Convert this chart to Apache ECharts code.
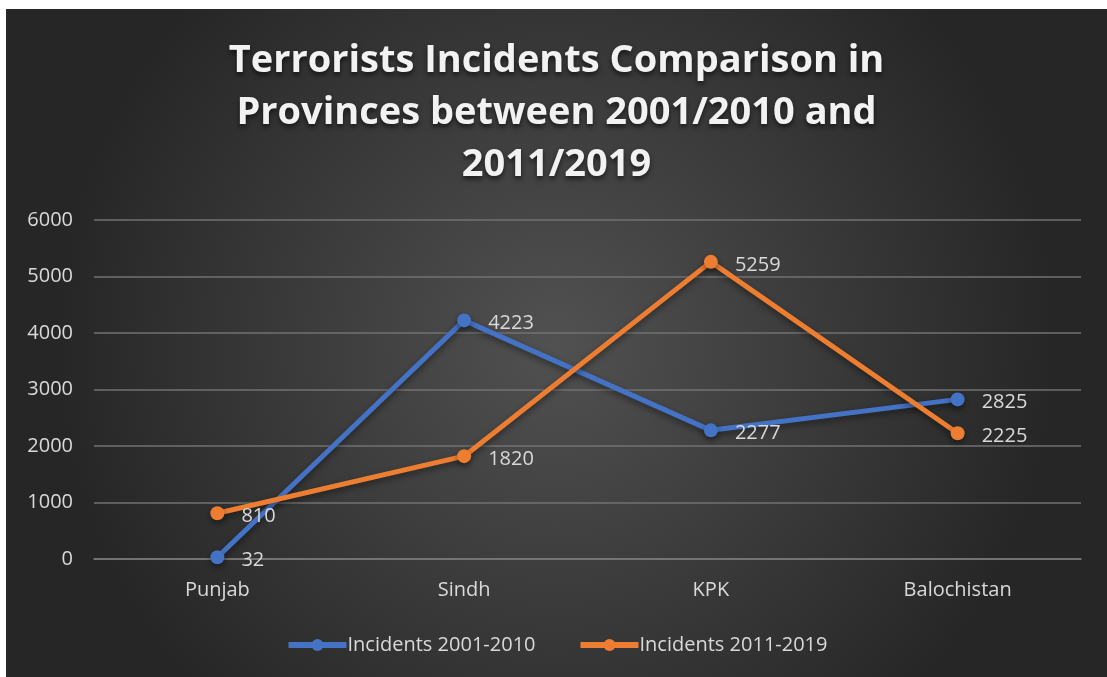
<!DOCTYPE html>
<html>
<head>
<meta charset="utf-8">
<script src="https://cdn.jsdelivr.net/npm/echarts@6/dist/echarts.min.js"></script>
<style>
  html, body { margin: 0; padding: 0; background: #ffffff; }
  #chart { position: absolute; left: 6px; top: 9px; width: 1101px; height: 668px; }
</style>
</head>
<body>
<div id="chart"></div>
<script>
// Provinces on the x axis
const provinces = ['Punjab', 'Sindh', 'KPK', 'Balochistan'];
// Incident counts per period
const incidents2001to2010 = [32, 4223, 2277, 2825];
const incidents2011to2019 = [810, 1820, 5259, 2225];
const seriesNames = ['Incidents 2001-2010', 'Incidents 2011-2019'];
const titleText = 'Terrorists Incidents Comparison in\nProvinces between 2001/2010 and\n2011/2019';

const FONT = '"Open Sans", "DejaVu Sans", sans-serif';
const TEXT = '#d9d9d9';

function lineSeries(name, data, color) {
  return {
    name: name,
    type: 'line',
    data: data,
    symbol: 'circle',
    symbolSize: 14,
    lineStyle: {
      color: color, width: 5,
      shadowColor: 'rgba(0,0,0,0.45)', shadowBlur: 6, shadowOffsetY: 3
    },
    itemStyle: {
      color: color,
      shadowColor: 'rgba(0,0,0,0.45)', shadowBlur: 6, shadowOffsetY: 3
    },
    label: {
      show: true, position: 'right', distance: 17, offset: [0, 3],
      color: TEXT, fontSize: 20, fontFamily: FONT
    },
    emphasis: { disabled: true },
    animation: false
  };
}

const chart = echarts.init(document.getElementById('chart'));
chart.setOption({
  backgroundColor: {
    type: 'radial', x: 0.5, y: 0.5, r: 0.75,
    colorStops: [
      { offset: 0, color: '#515151' },
      { offset: 1, color: '#262626' }
    ]
  },
  title: {
    text: titleText,
    left: 'center',
    top: 21,
    textStyle: {
      color: '#f2f2f2', fontSize: 38, fontWeight: 'bold', fontFamily: FONT,
      lineHeight: 52, align: 'center',
      textShadowColor: 'rgba(0,0,0,0.6)', textShadowBlur: 5, textShadowOffsetY: 3
    }
  },
  legend: {
    bottom: 17,
    left: 'center',
    itemWidth: 58,
    itemHeight: 15,
    itemGap: 42,
    lineStyle: { width: 6 },
    textStyle: { color: TEXT, fontSize: 20, fontFamily: FONT, padding: [0, 0, 0, -4] },
    data: seriesNames
  },
  grid: { left: 88, right: 26, top: 211, bottom: 118, containLabel: false },
  xAxis: {
    type: 'category',
    data: provinces,
    axisLine: { lineStyle: { color: '#7a7a7a', width: 1.5 } },
    axisTick: { show: false },
    axisLabel: { color: TEXT, fontSize: 20, fontFamily: FONT, margin: 21 }
  },
  yAxis: {
    type: 'value',
    min: 0, max: 6000, interval: 1000,
    axisLine: { show: false },
    axisTick: { show: false },
    splitLine: { lineStyle: { color: '#727272', width: 1.5 } },
    axisLabel: {
      color: TEXT, fontSize: 20, fontFamily: FONT, margin: 21,
      formatter: function (v) { return String(v); }
    }
  },
  series: [
    lineSeries(seriesNames[0], incidents2001to2010, '#4472C4'),
    lineSeries(seriesNames[1], incidents2011to2019, '#ED7D31')
  ]
});
</script>
</body>
</html>
